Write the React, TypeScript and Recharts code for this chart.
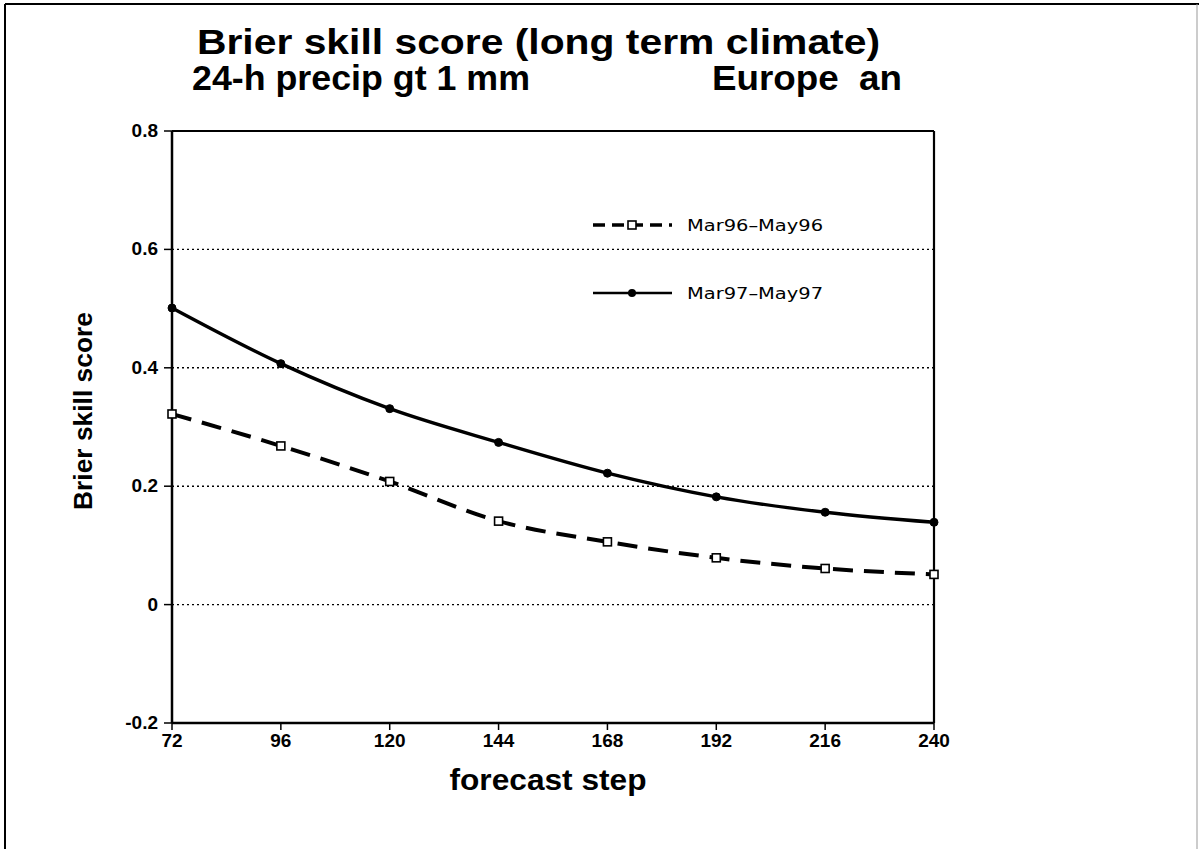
import React from 'react';
import { LineChart, Line, XAxis, YAxis, ReferenceLine } from 'recharts';

const steps = [72, 96, 120, 144, 168, 192, 216, 240];
const mar96 = [0.322, 0.268, 0.208, 0.141, 0.106, 0.079, 0.061, 0.051];
const mar97 = [0.501, 0.407, 0.331, 0.274, 0.222, 0.182, 0.156, 0.139];
const yTicks = [-0.2, 0, 0.2, 0.4, 0.6, 0.8];
const gridValues = [0, 0.2, 0.4, 0.6];
const seriesNames = ['Mar96\u2013May96', 'Mar97\u2013May97'];
const titleLine1 = 'Brier skill score (long term climate)';
const titleLine2a = '24-h precip gt 1 mm';
const titleLine2b = 'Europe  an';
const xLabel = 'forecast step';
const yLabel = 'Brier skill score';

const data = steps.map((s, i) => ({ step: s, a: mar96[i], b: mar97[i] }));

const BOLD = '"Liberation Sans", Arial, Helvetica, sans-serif';
const THIN = '"DejaVu Sans", "Liberation Sans", sans-serif';

const SquareDot = (props: any) => {
  const { cx, cy, index } = props;
  if (cx == null || cy == null) return <g key={`s${index}`} />;
  return (
    <rect key={`s${index}`} x={cx - 4} y={cy - 4} width={8} height={8} fill="#fff" stroke="#000" strokeWidth={1.6} />
  );
};

const fmt = (v: number) => (Math.abs(v) < 1e-9 ? '0' : v.toFixed(1));

const XTick = (props: any) => {
  const { x, y, payload } = props;
  return (
    <text x={x} y={y + 15} textAnchor="middle" fill="#000" fontSize={19} fontWeight={700} fontFamily={BOLD}>
      {payload.value}
    </text>
  );
};

const YTick = (props: any) => {
  const { x, y, payload } = props;
  return (
    <text x={x} y={y + 6} textAnchor="end" fill="#000" fontSize={19} fontWeight={700} fontFamily={BOLD}>
      {fmt(payload.value)}
    </text>
  );
};

export default function App() {
  return (
    <div style={{ position: 'absolute', left: 0, top: 0, width: 1199, height: 849, background: '#fff' }}>
      <LineChart width={1199} height={849} data={data} margin={{ top: 131, right: 265, bottom: 86, left: 112 }}>
        <XAxis
          dataKey="step"
          type="number"
          domain={[72, 240]}
          ticks={steps}
          interval={0}
          axisLine={{ stroke: '#000', strokeWidth: 2.5 }}
          tickLine={{ stroke: '#000', strokeWidth: 1.5 }}
          tickSize={7}
          tickMargin={2}
          height={40}
          tick={<XTick />}
        />
        <YAxis
          type="number"
          domain={[-0.2, 0.8]}
          ticks={yTicks}
          interval={0}
          width={60}
          axisLine={{ stroke: '#000', strokeWidth: 2.5 }}
          tickLine={{ stroke: '#000', strokeWidth: 1.5 }}
          tickSize={8}
          tickMargin={6}
          tick={<YTick />}
        />
        {gridValues.map((v) => (
          <ReferenceLine key={`g${v}`} y={v} stroke="#000" strokeWidth={1.4} strokeDasharray="2 3" />
        ))}
        <ReferenceLine y={0.8} stroke="#000" strokeWidth={2.2} />
        <ReferenceLine x={240} stroke="#000" strokeWidth={2.2} />
        <Line
          type="monotone"
          dataKey="a"
          stroke="#000"
          strokeWidth={4}
          strokeDasharray="20 11"
          dot={SquareDot}
          isAnimationActive={false}
        />
        <Line
          type="monotone"
          dataKey="b"
          stroke="#000"
          strokeWidth={3.4}
          dot={{ r: 4, fill: '#000', stroke: '#000', strokeWidth: 1 }}
          isAnimationActive={false}
        />
      </LineChart>
      <svg width={1199} height={849} style={{ position: 'absolute', left: 0, top: 0, pointerEvents: 'none' }}>
        <line x1={5} y1={4} x2={1199} y2={4} stroke="#000" strokeWidth={2} />
        <line x1={5} y1={4} x2={5} y2={849} stroke="#000" strokeWidth={2} />
        <line x1={1197} y1={4} x2={1197} y2={849} stroke="#999" strokeWidth={1} />
        <text x={197} y={54} fontFamily={BOLD} fontWeight={700} fontSize={35} textLength={683} lengthAdjust="spacingAndGlyphs">{titleLine1}</text>
        <text x={192} y={90} fontFamily={BOLD} fontWeight={700} fontSize={35} textLength={338} lengthAdjust="spacingAndGlyphs">{titleLine2a}</text>
        <text x={712} y={90} fontFamily={BOLD} fontWeight={700} fontSize={35} textLength={190} lengthAdjust="spacingAndGlyphs" style={{ whiteSpace: 'pre' }}>{titleLine2b}</text>
        <text x={548} y={790} textAnchor="middle" fontFamily={BOLD} fontWeight={700} fontSize={30} textLength={197} lengthAdjust="spacingAndGlyphs">{xLabel}</text>
        <text transform="translate(92,411) rotate(-90)" textAnchor="middle" fontFamily={BOLD} fontWeight={700} fontSize={26} textLength={198} lengthAdjust="spacingAndGlyphs">{yLabel}</text>
        {/* legend */}
        <line x1={593} y1={225} x2={672} y2={225} stroke="#000" strokeWidth={3.5} strokeDasharray="12 7" />
        <rect x={628} y={221} width={8} height={8} fill="#fff" stroke="#000" strokeWidth={1.6} />
        <text x={687} y={231} fontFamily={THIN} fontSize={16} textLength={136} lengthAdjust="spacingAndGlyphs">{seriesNames[0]}</text>
        <line x1={593} y1={293} x2={672} y2={293} stroke="#000" strokeWidth={2.5} />
        <circle cx={632} cy={293} r={4} fill="#000" />
        <text x={687} y={299} fontFamily={THIN} fontSize={16} textLength={136} lengthAdjust="spacingAndGlyphs">{seriesNames[1]}</text>
      </svg>
    </div>
  );
}
